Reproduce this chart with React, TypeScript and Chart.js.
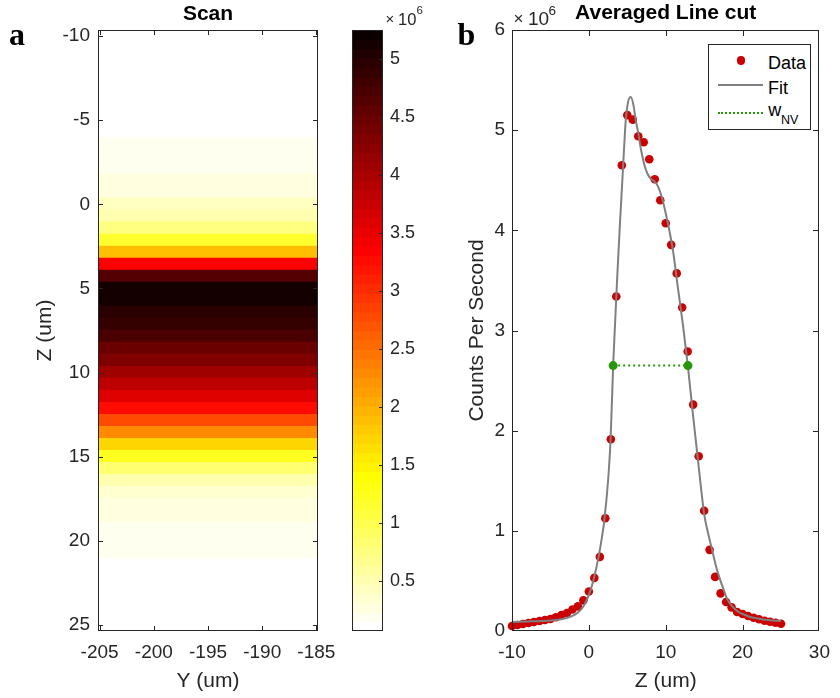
import React, { useEffect, useRef } from 'react';
import { Chart, registerables } from 'chart.js';

Chart.register(...registerables);

const FONT = "'Liberation Sans', Arial, Helvetica, sans-serif";
const SERIF = "'Liberation Serif', 'Times New Roman', serif";
const INK = '#262626';

// ---- Data -------------------------------------------------------------
// Z positions of the scan rows / line-cut samples (um)
const Z_POS = [
  -10, -9.29, -8.57, -7.86, -7.14, -6.43, -5.71, -5, -4.29, -3.57,
  -2.86, -2.14, -1.43, -0.71, 0, 0.71, 1.43, 2.14, 2.86, 3.57,
  4.29, 5, 5.71, 6.43, 7.14, 7.86, 8.57, 9.29, 10, 10.71,
  11.43, 12.14, 12.86, 13.57, 14.29, 15, 15.71, 16.43, 17.14, 17.86,
  18.57, 19.29, 20, 20.71, 21.43, 22.14, 22.86, 23.57, 24.29, 25,
];
// Counts per second (x10^6) for each Z row (averaged line cut)
const COUNTS = [
  0.05, 0.06, 0.07, 0.08, 0.09, 0.1, 0.11, 0.12, 0.137, 0.16,
  0.18, 0.215, 0.246, 0.306, 0.395, 0.53, 0.74, 1.125, 1.915, 3.34,
  4.65, 5.15, 5.105, 4.94, 4.88, 4.71, 4.51, 4.3, 4.07, 3.855,
  3.57, 3.23, 2.79, 2.26, 1.745, 1.2, 0.81, 0.54, 0.376, 0.29,
  0.236, 0.19, 0.17, 0.15, 0.133, 0.117, 0.103, 0.093, 0.083, 0.073,
];
// Fit curve (Z in um, counts x10^6)
const FIT_Z = [
  -10, -8, -6, -5, -4, -3, -2, -1.5, -1, -0.5, 0, 0.5, 1, 1.5, 2, 2.5, 2.83, 3.16, 3.4, 3.67,
  4, 4.47, 4.82, 5.1, 5.46, 5.8, 6.1, 6.43, 6.8, 7.2, 7.6, 8, 8.5, 8.85, 9.2, 9.6, 10, 10.34,
  10.98, 11.49, 12.25, 12.89, 13.53, 14.29, 15, 15.5, 16, 16.5, 17, 17.5, 18, 18.5, 19, 19.5,
  20, 21, 22, 23, 24, 25,
];
const FIT_COUNTS = [
  0.09, 0.095, 0.1, 0.105, 0.113, 0.128, 0.155, 0.18, 0.215, 0.275, 0.36, 0.48, 0.64, 0.84, 1.1, 1.5, 1.92, 2.65, 3.05, 3.5,
  4.0, 4.66, 5.12, 5.28, 5.33, 5.25, 5.1, 4.97, 4.8, 4.66, 4.57, 4.52, 4.49, 4.46, 4.4, 4.3, 4.17, 4.05,
  3.78, 3.48, 3.05, 2.64, 2.17, 1.64, 1.17, 0.98, 0.82, 0.66, 0.53, 0.42, 0.32, 0.26, 0.22, 0.19,
  0.17, 0.14, 0.125, 0.112, 0.105, 0.1,
];
// Full width at half maximum marker
const WNV_Z = [3.16, 12.89];
const WNV_COUNTS = [2.65, 2.65];

// Scan extent along Y (um) and axis ticks
const SCAN_Y_RANGE = [-205.15, -184.85];
const SCAN_Z_RANGE = [-10.357, 25.357];
const SCAN_Y_TICKS = [-205, -200, -195, -190, -185];
const SCAN_Z_TICKS = [-10, -5, 0, 5, 10, 15, 20, 25];
const CBAR_RANGE = [0.065, 5.25];
const CBAR_TICKS = [0.5, 1, 1.5, 2, 2.5, 3, 3.5, 4, 4.5, 5];
const CUT_X_TICKS = [-10, 0, 10, 20, 30];
const CUT_Y_TICKS = [0, 1, 2, 3, 4, 5, 6];

// ---- Styling helpers -------------------------------------------------
const N_LEVELS = 64;
function hotLevelColor(level: number) {
  // flipped MATLAB "hot" colormap: level 0 = white, level 63 = near black
  const j = N_LEVELS - level;
  const clamp = (v: number) => Math.max(0, Math.min(1, v));
  const r = clamp(j / 24), g = clamp((j - 24) / 24), b = clamp((j - 48) / 16);
  return `rgb(${Math.round(r * 255)},${Math.round(g * 255)},${Math.round(b * 255)})`;
}
function valueToLevel(v: number) {
  const f = (v - CBAR_RANGE[0]) / (CBAR_RANGE[1] - CBAR_RANGE[0]);
  return Math.max(0, Math.min(N_LEVELS - 1, Math.floor(f * N_LEVELS)));
}

const fixedTicks = (values: number[]) => (scale: any) => {
  scale.ticks = values.map((v) => ({ value: v }));
};

const boxPlugin = {
  id: 'matlabBox',
  afterDatasetsDraw(chart: any, _args: any, opts: any) {
    const { ctx, chartArea: a } = chart;
    const L = Math.round(a.left), R = Math.round(a.right), T = Math.round(a.top), B = Math.round(a.bottom);
    ctx.save();
    ctx.strokeStyle = INK;
    ctx.lineWidth = 1;
    ctx.strokeRect(L + 0.5, T + 0.5, R - L - 1, B - T - 1);
    const len = opts.len ?? 5;
    ctx.beginPath();
    if (opts.x) {
      const s = chart.scales[opts.x.id];
      s.ticks.forEach((t: any) => {
        const p = Math.round(s.getPixelForValue(t.value)) + 0.5;
        if (p < L || p > R) return;
        if (opts.x.bottom) { ctx.moveTo(p, B); ctx.lineTo(p, B - len); }
        if (opts.x.top) { ctx.moveTo(p, T); ctx.lineTo(p, T + len); }
      });
    }
    if (opts.y) {
      const s = chart.scales[opts.y.id];
      s.ticks.forEach((t: any) => {
        const p = Math.round(s.getPixelForValue(t.value)) + 0.5;
        if (p < T || p > B) return;
        if (opts.y.left) { ctx.moveTo(L, p); ctx.lineTo(L + len, p); }
        if (opts.y.right) { ctx.moveTo(R, p); ctx.lineTo(R - len, p); }
      });
    }
    ctx.stroke();
    ctx.restore();
  },
};

const W = 840, H = 698;
const tickFont = { family: FONT, size: 19 };
const labelFont = { family: FONT, size: 21 };
const titleFont = { family: FONT, size: 21, weight: 'bold' as const };
const noGrid = { display: false, drawTicks: false, tickLength: 0 };

function Txt(props: { x: number; y: number; size: number; children: any; family?: string; weight?: string; color?: string }) {
  const family = props.family || FONT;
  const serif = family === SERIF;
  const asc = serif ? 0.891 : 0.905;
  const desc = serif ? 0.216 : 0.212;
  const top = props.y - (asc - (asc + desc - 1) / 2) * props.size;
  return (
    <div style={{ position: 'absolute', left: props.x, top, fontSize: props.size, lineHeight: `${props.size}px`, fontFamily: family, fontWeight: (props.weight as any) || 'normal', color: props.color || INK, whiteSpace: 'nowrap' }}>
      {props.children}
    </div>
  );
}

export default function App() {
  const mapRef = useRef<HTMLCanvasElement>(null);
  const barRef = useRef<HTMLCanvasElement>(null);
  const cutRef = useRef<HTMLCanvasElement>(null);

  useEffect(() => {
    const charts: Chart[] = [];

    // Panel a: scan heat map
    charts.push(new Chart(mapRef.current!, {
      type: 'bar',
      data: {
        datasets: [{
          data: Z_POS.map((z) => ({ y: z, x: SCAN_Y_RANGE })) as any,
          backgroundColor: COUNTS.map((v) => hotLevelColor(valueToLevel(v))),
          borderWidth: 0,
          barThickness: 'flex',
          barPercentage: 1.06,
          categoryPercentage: 1,
        } as any],
      },
      options: {
        indexAxis: 'y',
        animation: false,
        responsive: false,
        layout: { padding: { left: 0, top: 0, right: W - 318, bottom: 0 } },
        plugins: {
          legend: { display: false },
          tooltip: { enabled: false },
          title: { display: true, text: 'Scan', font: titleFont, color: '#000', padding: { top: 2, bottom: 2.8 }, fullSize: false },
          matlabBox: { len: 5, x: { id: 'x', bottom: true, top: true }, y: { id: 'y', left: true, right: true } },
        } as any,
        scales: {
          x: {
            type: 'linear', position: 'bottom', min: SCAN_Y_RANGE[0], max: SCAN_Y_RANGE[1],
            afterBuildTicks: fixedTicks(SCAN_Y_TICKS),
            afterFit: (s: any) => { s.height = H - 631; },
            ticks: { font: tickFont, color: INK, padding: 10, maxRotation: 0, minRotation: 0, autoSkip: false, callback: (v: any) => String(v) },
            grid: noGrid, border: { display: false },
            title: { display: true, text: 'Y (um)', font: labelFont, color: INK, padding: { top: 0, bottom: 3.7 } },
          },
          y: {
            type: 'linear', position: 'left', reverse: true, offset: false, min: SCAN_Z_RANGE[0], max: SCAN_Z_RANGE[1],
            afterBuildTicks: fixedTicks(SCAN_Z_TICKS),
            afterFit: (s: any) => { s.width = 98; },
            ticks: { font: tickFont, color: INK, padding: 8, autoSkip: false, callback: (v: any) => String(v) },
            grid: noGrid, border: { display: false },
            title: { display: true, text: 'Z (um)', font: labelFont, color: INK, padding: { top: 32.4, bottom: 0 } },
          },
        },
      } as any,
      plugins: [boxPlugin],
    }));

    // Colorbar
    const levels = Array.from({ length: N_LEVELS }, (_, i) => i);
    const step = (CBAR_RANGE[1] - CBAR_RANGE[0]) / N_LEVELS;
    charts.push(new Chart(barRef.current!, {
      type: 'bar',
      data: {
        datasets: [{
          data: levels.map((i) => ({ y: CBAR_RANGE[0] + (i + 0.5) * step, x: [0, 1] })) as any,
          backgroundColor: levels.map((i) => hotLevelColor(i)),
          borderWidth: 0,
          barThickness: 'flex',
          barPercentage: 1.08,
          categoryPercentage: 1,
        } as any],
      },
      options: {
        indexAxis: 'y',
        animation: false,
        responsive: false,
        layout: { padding: { left: 352, top: 30, right: 0, bottom: H - 631 } },
        plugins: {
          legend: { display: false },
          tooltip: { enabled: false },
          matlabBox: { len: 4, y: { id: 'y', right: true } },
        } as any,
        scales: {
          x: { type: 'linear', display: false, min: 0, max: 1 },
          y: {
            type: 'linear', position: 'right', offset: false, min: CBAR_RANGE[0], max: CBAR_RANGE[1],
            afterBuildTicks: fixedTicks(CBAR_TICKS),
            afterFit: (s: any) => { s.width = W - 383; },
            ticks: { font: { family: FONT, size: 18 }, color: INK, padding: 7, autoSkip: false, callback: (v: any) => String(v) },
            grid: noGrid, border: { display: false },
          },
        },
      } as any,
      plugins: [boxPlugin],
    }));

    // Panel b: averaged line cut
    charts.push(new Chart(cutRef.current!, {
      type: 'scatter',
      data: {
        datasets: [
          {
            label: 'w_NV',
            data: WNV_Z.map((z, i) => ({ x: z, y: WNV_COUNTS[i] })),
            showLine: true,
            borderColor: 'rgb(40,150,10)',
            borderWidth: 2,
            borderDash: [2, 3],
            pointRadius: 4.5,
            pointBackgroundColor: 'rgb(40,150,10)',
            pointBorderWidth: 0,
            order: 1,
          },
          {
            label: 'Fit',
            data: FIT_Z.map((z, i) => ({ x: z, y: FIT_COUNTS[i] })),
            showLine: true,
            borderColor: '#808080',
            borderWidth: 2,
            pointRadius: 0,
            cubicInterpolationMode: 'monotone',
            order: 2,
          },
          {
            label: 'Data',
            data: Z_POS.map((z, i) => ({ x: z, y: COUNTS[i] })),
            showLine: false,
            pointRadius: 4.3,
            backgroundColor: '#CC0000',
            pointBackgroundColor: '#CC0000',
            pointBorderWidth: 0,
            clip: false,
            order: 3,
          },
        ] as any,
      },
      options: {
        animation: false,
        responsive: false,
        layout: { padding: { left: 0, top: 0, right: W - 826, bottom: 0 } },
        plugins: {
          legend: { display: false },
          tooltip: { enabled: false },
          title: { display: true, text: 'Averaged Line cut', font: titleFont, color: '#000', padding: { top: 0.8, bottom: 4 }, fullSize: false },
          matlabBox: { len: 6, x: { id: 'x', bottom: true, top: true }, y: { id: 'y', left: true, right: true } },
        } as any,
        scales: {
          x: {
            type: 'linear', position: 'bottom', min: -10, max: 30,
            afterBuildTicks: fixedTicks(CUT_X_TICKS),
            afterFit: (s: any) => { s.height = H - 631; },
            ticks: { font: tickFont, color: INK, padding: 10, maxRotation: 0, minRotation: 0, autoSkip: false, callback: (v: any) => String(v) },
            grid: noGrid, border: { display: false },
            title: { display: true, text: 'Z (um)', font: labelFont, color: INK, padding: { top: 0, bottom: 3.7 } },
          },
          y: {
            type: 'linear', position: 'left', min: 0, max: 6,
            afterBuildTicks: fixedTicks(CUT_Y_TICKS),
            afterFit: (s: any) => { s.width = 512; },
            ticks: { font: tickFont, color: INK, padding: 7, autoSkip: false, callback: (v: any) => String(v) },
            grid: noGrid, border: { display: false },
            title: { display: true, text: 'Counts Per Second', font: labelFont, color: INK, padding: { top: 464.4, bottom: 0 } },
          },
        },
      } as any,
      plugins: [boxPlugin],
    }));

    return () => charts.forEach((c) => c.destroy());
  }, []);

  const canvasStyle: React.CSSProperties = { position: 'absolute', left: 0, top: 0, width: W, height: H };
  const green = 'rgb(40,150,10)';

  return (
    <div style={{ position: 'fixed', left: 0, top: 0, width: W, height: H, background: '#fff', overflow: 'hidden' }}>
      <canvas ref={mapRef} width={W} height={H} style={canvasStyle} />
      <canvas ref={barRef} width={W} height={H} style={canvasStyle} />
      <canvas ref={cutRef} width={W} height={H} style={canvasStyle} />

      <Txt x={9} y={45} size={32} family={SERIF} weight="bold" color="#000">a</Txt>
      <Txt x={457.5} y={45} size={32} family={SERIF} weight="bold" color="#000">b</Txt>

      <Txt x={385.5} y={24} size={15}>×</Txt>
      <Txt x={398} y={25} size={16.5}>10</Txt>
      <Txt x={416.5} y={15} size={11.5}>6</Txt>
      <Txt x={513.5} y={24} size={17}>×</Txt>
      <Txt x={528} y={25} size={19}>10</Txt>
      <Txt x={548.5} y={15} size={13.5}>6</Txt>

      <div style={{ position: 'absolute', left: 708, top: 44, width: 103, height: 86, boxSizing: 'border-box', border: `1px solid ${INK}`, background: '#fff' }} />
      <div style={{ position: 'absolute', left: 736.5, top: 56, width: 8.5, height: 8.5, borderRadius: '50%', background: '#CC0000' }} />
      <Txt x={768} y={69} size={18} color="#000">Data</Txt>
      <div style={{ position: 'absolute', left: 718, top: 84, width: 45, height: 2, background: '#808080' }} />
      <Txt x={768} y={94.3} size={18} color="#000">Fit</Txt>
      <div style={{ position: 'absolute', left: 718, top: 111.5, width: 45, height: 0, borderTop: `2px dotted ${green}` }} />
      <Txt x={768.3} y={116.7} size={18} color="#000">w</Txt>
      <Txt x={781} y={125} size={12.5} color="#000">NV</Txt>
    </div>
  );
}
